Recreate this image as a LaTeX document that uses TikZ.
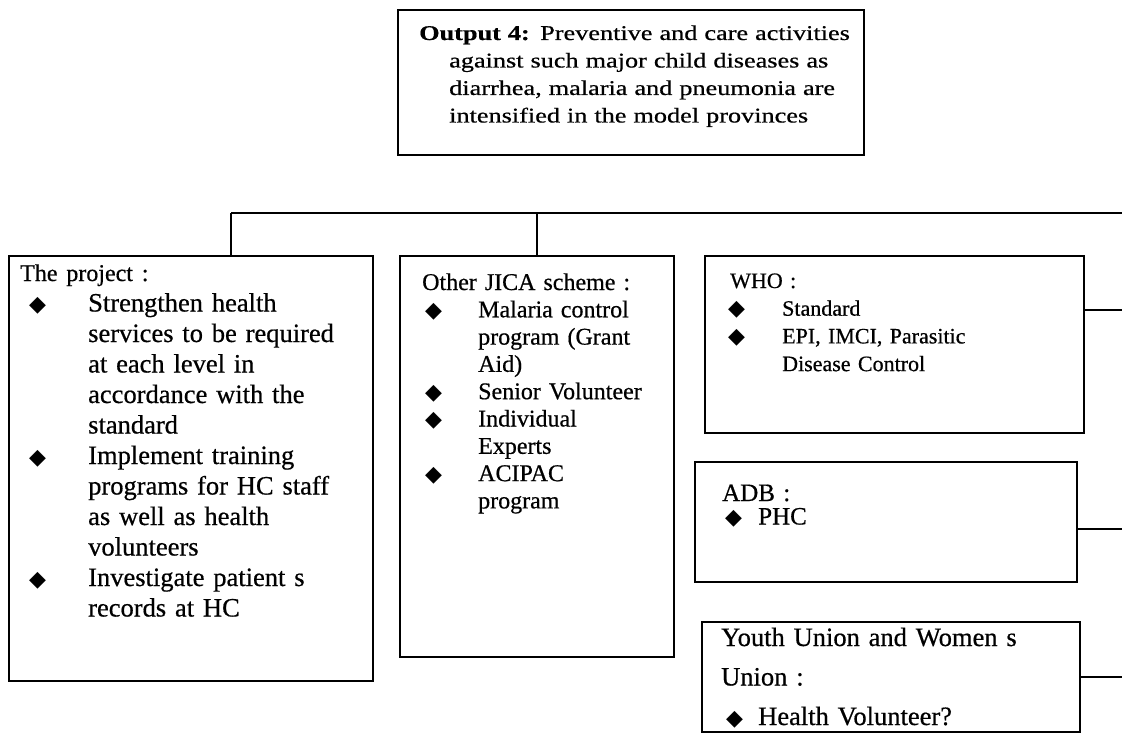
\documentclass[tikz,border=0pt]{standalone}
\usepackage{fontspec}
\setmainfont{Liberation Serif}[FakeBold=0.6]
\newfontfamily\widefont{Liberation Serif}[FakeStretch=1.25, FakeBold=0.6]
\newfontfamily\symfont{DejaVu Sans}

% bullet list helpers
\newlength\bulx
\newlength\bulw
\newcommand\dia{{\symfont\fontsize{22}{22}\selectfont ◆}}
\newcommand\itm[1]{\makebox[\bulw][l]{\hspace*{\bulx}\dia}#1}
\newcommand\cnt[1]{\hspace*{\bulw}#1}

\tikzset{
  box/.style={draw, line width=1.8pt, anchor=north west, inner sep=0pt, outer sep=0pt},
  txt/.style={anchor=base west, inner sep=0pt, align=left, text width=#1},
  items/.style 2 args={execute at begin node={\setlength\bulx{#1}\setlength\bulw{#2}}},
  link/.style={line width=1.8pt},
}

\begin{document}
\begin{tikzpicture}[x=1pt, y=-1pt]
\useasboundingbox (0,0) rectangle (1122,733);

% Output box
\node[box, minimum width=466, minimum height=145] (out) at (398,10) {};
\node[txt=460pt, items={0pt}{30pt}, font=\widefont\fontsize{21}{27.5}\selectfont] (outtxt) at (419,40)
  {\textbf{Output 4:} Preventive and care activities\\
   \cnt{against such major child diseases as}\\
   \cnt{diarrhea, malaria and pneumonia are}\\
   \cnt{intensified in the model provinces}};

% The project
\node[box, minimum width=364, minimum height=425] (proj) at (9,256) {};
\node[txt=360pt, items={9pt}{68pt}, font=\fontsize{26.5}{30.5}\selectfont] (projtxt) at (20,281)
  {{\fontsize{24}{30.5}\selectfont The project :}\\
   \itm{Strengthen health}\\
   \cnt{services to be required}\\
   \cnt{at each level in}\\
   \cnt{accordance with the}\\
   \cnt{standard}\\
   \itm{Implement training}\\
   \cnt{programs for HC staff}\\
   \cnt{as well as health}\\
   \cnt{volunteers}\\
   \itm{Investigate patient s}\\
   \cnt{records at HC}};

% Other JICA scheme
\node[box, minimum width=274, minimum height=401] (jica) at (400,256) {};
\node[txt=280pt, items={3pt}{56pt}, font=\fontsize{24}{27.3}\selectfont] (jicatxt) at (422,290)
  {Other JICA scheme :\\
   \itm{Malaria control}\\
   \cnt{program (Grant}\\
   \cnt{Aid)}\\
   \itm{Senior Volunteer}\\
   \itm{Individual}\\
   \cnt{Experts}\\
   \itm{ACIPAC}\\
   \cnt{program}};

% WHO
\node[box, minimum width=379, minimum height=177] (who) at (705,256) {};
\node[txt=340pt, items={-2pt}{52pt}, font=\fontsize{22}{27.7}\selectfont] (whotxt) at (730,288)
  {WHO :\\
   \itm{Standard}\\
   \itm{EPI, IMCI, Parasitic}\\
   \cnt{Disease Control}};

% ADB
\node[box, minimum width=382, minimum height=120] (adb) at (695,462) {};
\node[txt=340pt, items={3pt}{36pt}, font=\fontsize{25}{23.5}\selectfont] (adbtxt) at (722,501)
  {ADB :\\
   \itm{PHC}};

% Youth Union and Women's Union
\node[box, minimum width=378, minimum height=110] (youth) at (702,622) {};
\node[txt=350pt, items={5pt}{37pt}, font=\fontsize{26.5}{39.5}\selectfont] (youthtxt) at (721,646)
  {Youth Union and Women s\\
   Union :\\
   \itm{Health Volunteer?}};

% Connectors
\coordinate (bus-l) at (231,213);
\coordinate (bus-r) at (1122,213);
\coordinate (who-r) at (1122,310);
\coordinate (adb-r) at (1122,529);
\coordinate (youth-r) at (1122,677);

\draw[link] (bus-l) -- (bus-r);
\draw[link] (bus-l) -- (bus-l |- proj.north);
\draw[link] (jica.north) -- (jica.north |- bus-l);
\draw[link] (who.east |- who-r) -- (who-r);
\draw[link] (adb.east |- adb-r) -- (adb-r);
\draw[link] (youth.east |- youth-r) -- (youth-r);

\end{tikzpicture}
\end{document}
